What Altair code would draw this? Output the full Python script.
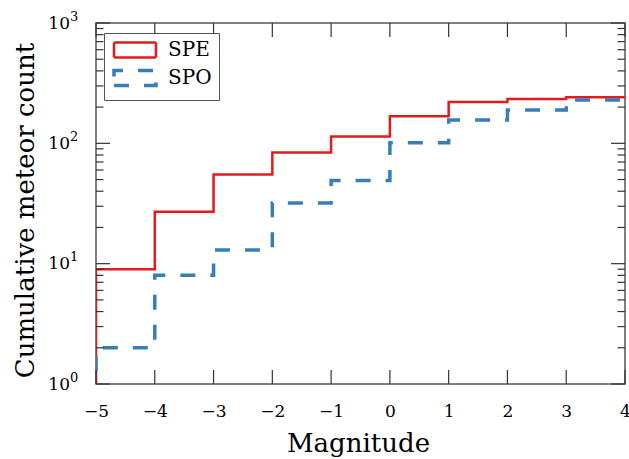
import altair as alt
import pandas as pd

# Cumulative meteor counts per magnitude bin (bin edges from -5 to 4)
magnitude_edges = [-5, -4, -3, -2, -1, 0, 1, 2, 3, 4]
spe_cumulative = [9, 27, 55, 84, 114, 168, 221, 234, 242]
spo_cumulative = [2, 8, 13, 32, 49, 101, 156, 189, 229]
series_names = ["SPE", "SPO"]
series_colors = ["#e41a1c", "#377eb8"]
hist_bottom = 1  # lower edge of the log-scaled step histogram

# Axis tick positions / labels
x_tick_values = [-5, -4, -3, -2, -1, 0, 1, 2, 3, 4]
y_decades = [1, 10, 100, 1000]
y_exponents = ["0", "1", "2", "3"]
y_minor_steps = [2, 3, 4, 5, 6, 7, 8, 9]

SERIF = "DejaVu Serif"
TICK_COLOR = "#333333"
W, H = 529, 361


def step_rows(name, counts):
    rows = [{"series": name, "k": 0, "m": magnitude_edges[0], "n": hist_bottom}]
    for i, c in enumerate(counts):
        rows.append({"series": name, "k": i + 1, "m": magnitude_edges[i], "n": c})
    rows.append({"series": name, "k": len(counts) + 1,
                 "m": magnitude_edges[-1], "n": counts[-1]})
    return rows


steps = pd.DataFrame(step_rows("SPE", spe_cumulative) + step_rows("SPO", spo_cumulative))
x_ticks_df = pd.DataFrame({"m": x_tick_values})
y_major_df = pd.DataFrame({"n": y_decades})
y_minor_df = pd.DataFrame({"n": [s * d for d in y_decades[:-1] for s in y_minor_steps]})
y_label_df = pd.DataFrame({"n": y_decades, "base": ["10"] * len(y_decades), "exp": y_exponents})

x_scale = alt.Scale(domain=[-5, 4], nice=False, zero=False)
y_scale = alt.Scale(type="log", domain=[1, 1000], nice=False)

legend = alt.Legend(
    title=None,
    orient="none",
    legendX=8,
    legendY=10,
    fillColor="white",
    strokeColor="#555555",
    padding=7,
    symbolType="M-2.8,1H2.8V-1H-2.8Z",
    symbolSize=225,
    symbolOffset=14,
    symbolFillColor="transparent",
    symbolDashOffset=0,
    labelFont=SERIF,
    labelFontSize=20,
    labelColor="black",
    labelOffset=23,
    rowPadding=0,
)

lines = alt.Chart(steps).mark_line(
    interpolate="step-after", clip=True, strokeDashOffset=17
).encode(
    color=alt.Color("series:N", scale=alt.Scale(domain=series_names, range=series_colors),
                    legend=legend),
    strokeDash=alt.StrokeDash("series:N", scale=alt.Scale(domain=series_names,
                                                          range=[[1, 0], [15, 15]]),
                              legend=legend),
    strokeWidth=alt.StrokeWidth("series:N", scale=alt.Scale(domain=series_names,
                                                            range=[2.5, 3.5]),
                                legend=legend),
    order="k:Q",
)

# Inward-pointing ticks on all four sides of the frame
tick = dict(color=TICK_COLOR, strokeWidth=1.2)

x_bottom = alt.Chart(x_ticks_df).mark_rule(**tick).encode(
    y=alt.value(H), y2=alt.value(H - 14))
x_top = alt.Chart(x_ticks_df).mark_rule(**tick).encode(
    y=alt.value(0), y2=alt.value(14))
y_left = alt.Chart(y_major_df).mark_rule(**tick).encode(
    x=alt.value(0), x2=alt.value(14))
y_right = alt.Chart(y_major_df).mark_rule(**tick).encode(
    x=alt.value(W), x2=alt.value(W - 14))
y_left_minor = alt.Chart(y_minor_df).mark_rule(**tick).encode(
    x=alt.value(0), x2=alt.value(7.5))
y_right_minor = alt.Chart(y_minor_df).mark_rule(**tick).encode(
    x=alt.value(W), x2=alt.value(W - 7.5))

# Power-of-ten labels for the log axis
y_base = alt.Chart(y_label_df).mark_text(
    align="right", baseline="alphabetic", font=SERIF, fontSize=17, dy=5.8, color="black"
).encode(x=alt.value(-26), text="base:N")
y_exp = alt.Chart(y_label_df).mark_text(
    align="left", baseline="alphabetic", font=SERIF, fontSize=13, dy=-2.2, color="black"
).encode(x=alt.value(-26), text="exp:N")

chart = alt.layer(
    lines, x_bottom, x_top, y_left, y_right, y_left_minor, y_right_minor, y_base, y_exp
).encode(
    x=alt.X("m:Q", scale=x_scale, axis=alt.Axis(
        values=x_tick_values, format="d", ticks=False, tickSize=0, domain=False,
        grid=False, labelFlush=False, labelOverlap=False, labelFont=SERIF,
        labelFontSize=17, labelColor="black", labelBaseline="alphabetic",
        labelPadding=32, title="Magnitude", titleFont=SERIF, titleFontSize=26,
        titleFontWeight="normal", titleColor="black", titleX=262, titleY=67,
        titleBaseline="alphabetic")),
    y=alt.Y("n:Q", scale=y_scale, axis=alt.Axis(
        labels=False, ticks=False, tickSize=0, domain=False, grid=False,
        title="Cumulative meteor count", titleFont=SERIF, titleFontSize=26,
        titleFontWeight="normal", titleColor="black", titleX=-63, titleY=187,
        titleBaseline="alphabetic", titleAngle=270)),
).properties(
    width=W,
    height=H,
    autosize=alt.AutoSizeParams(type="none"),
    padding={"left": 96, "top": 23, "right": 4, "bottom": 75},
    background="white",
).configure_view(
    stroke="#555555", strokeWidth=1.5
).configure_axis(
    labelFont=SERIF, titleFont=SERIF
).configure_legend(
    labelFont=SERIF
)

chart.save("out.html", embed_options={"renderer": "svg", "actions": False})
